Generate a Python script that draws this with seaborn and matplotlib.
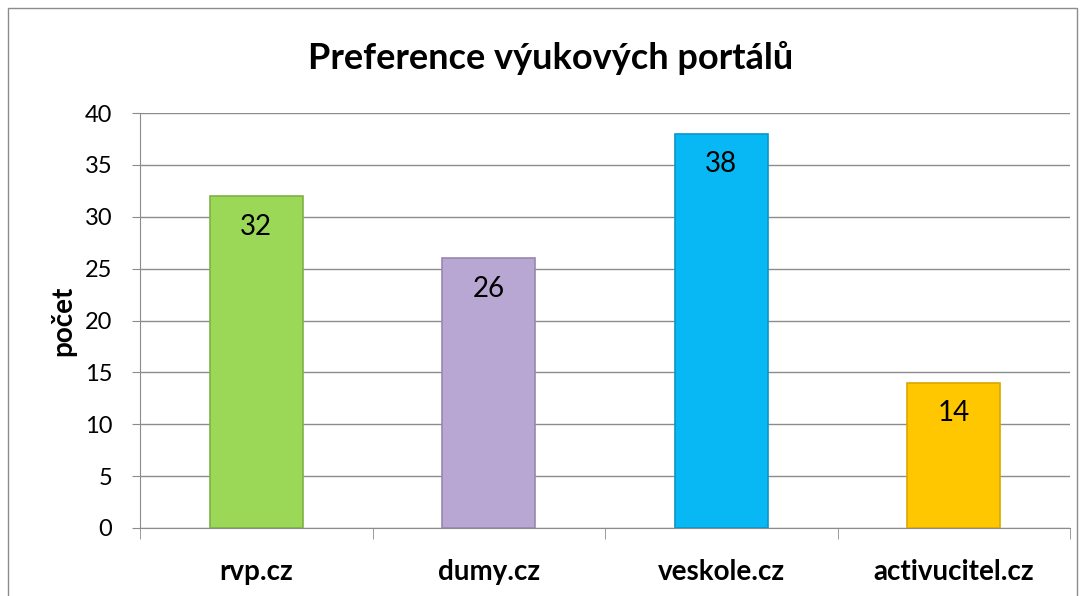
import numpy as np
import pandas as pd
import seaborn as sns
import matplotlib.pyplot as plt
from matplotlib.patches import Rectangle

portals = ["rvp.cz", "dumy.cz", "veskole.cz", "activucitel.cz"]
counts = [32, 26, 38, 14]
colors = ["#9bd857", "#b8a6d3", "#08b8f4", "#ffc700"]
edges = ["#7fb244", "#9888b0", "#0a96c8", "#d9a800"]

df = pd.DataFrame({"portal": portals, "count": counts})

sns.set_style("white")
plt.rcParams["font.family"] = ["Lato", "DejaVu Sans"]
plt.rcParams["text.color"] = "black"
plt.rcParams["xtick.color"] = "black"
plt.rcParams["ytick.color"] = "black"
plt.rcParams["axes.labelcolor"] = "black"

fig = plt.figure(figsize=(10.83, 5.96), dpi=100)
ax = fig.add_axes([140 / 1083, 1 - 528 / 596, 930 / 1083, 415 / 596])

sns.barplot(data=df, x="portal", y="count", hue="portal", palette=colors,
            width=0.4, saturation=1, legend=False, ax=ax, zorder=3)
for bar, ec in zip(ax.patches, edges):
    bar.set_edgecolor(ec)
    bar.set_linewidth(1.2)

for i, v in enumerate(counts):
    ax.text(i, v - 1.7, str(v), ha="center", va="top", fontsize=20, zorder=4)

ax.set_ylim(0, 40)
ax.set_xlim(-0.5, len(portals) - 0.5)
ax.set_yticks(np.arange(0, 41, 5))
ax.yaxis.grid(True, color="#8c8c8c", linewidth=1.0, zorder=0)
ax.set_axisbelow(True)
for s in ["top", "right"]:
    ax.spines[s].set_visible(False)
for s in ["left", "bottom"]:
    ax.spines[s].set_color("#8c8c8c")
ax.tick_params(axis="y", left=True, length=6, color="#8c8c8c", labelsize=17, pad=14)
ax.set_xticks(range(len(portals)))
ax.set_xticklabels(portals, fontsize=20, fontweight="bold")
ax.tick_params(axis="x", bottom=False, pad=19)
ax.set_xticks(np.arange(-0.5, len(portals), 1), minor=True)
ax.tick_params(axis="x", which="minor", bottom=True, length=8, color="#8c8c8c")
ax.set_xlabel("")
ax.set_ylabel("počet", fontsize=20, fontweight="bold", labelpad=6)

fig.text(551 / 1083, 1 - 58 / 596, "Preference výukových portálů", ha="center",
         va="center", fontsize=26, fontweight="bold")

fig.patches.append(Rectangle((8 / 1083, -0.1), 1069 / 1083, 1.1 - 8 / 596,
                             transform=fig.transFigure, fill=False,
                             edgecolor="#8c8c8c", linewidth=1))

fig.savefig("out.png", dpi=100)
